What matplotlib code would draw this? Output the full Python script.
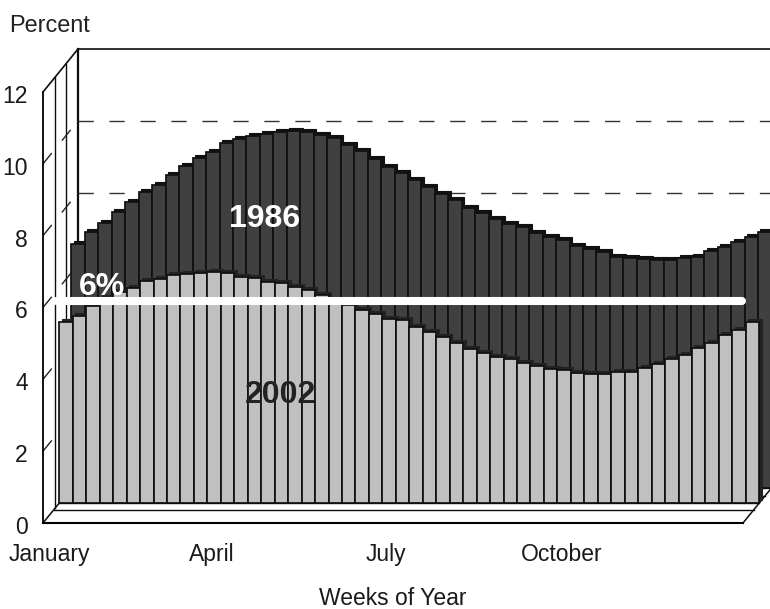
import matplotlib
matplotlib.use('Agg')
import matplotlib.pyplot as plt
from matplotlib.transforms import Affine2D
import numpy as np

plt.rcParams['font.family'] = ['Liberation Sans', 'DejaVu Sans']

# Data: share of annual total per week, 52 weeks
share_1986 = [6.80, 7.13, 7.38, 7.69, 7.97, 8.25, 8.44, 8.72, 8.96, 9.19, 9.36, 9.61, 9.72,
              9.79, 9.86, 9.92, 9.94, 9.92, 9.83, 9.75, 9.55, 9.37, 9.16, 8.95, 8.78, 8.58,
              8.38, 8.19, 8.02, 7.80, 7.66, 7.49, 7.35, 7.27, 7.10, 6.99, 6.91, 6.74, 6.66,
              6.57, 6.43, 6.41, 6.38, 6.35, 6.35, 6.41, 6.43, 6.60, 6.71, 6.85, 6.99, 7.13]
share_2002 = [5.04, 5.21, 5.49, 5.71, 5.88, 5.99, 6.18, 6.24, 6.35, 6.38, 6.41, 6.43, 6.41,
              6.30, 6.27, 6.16, 6.13, 6.02, 5.93, 5.79, 5.65, 5.52, 5.38, 5.26, 5.13, 5.10,
              4.90, 4.76, 4.62, 4.46, 4.29, 4.18, 4.07, 4.01, 3.90, 3.82, 3.73, 3.70, 3.62,
              3.59, 3.59, 3.65, 3.65, 3.76, 3.87, 4.01, 4.12, 4.32, 4.46, 4.68, 4.82, 5.04]
month_weeks = [1, 13, 26, 39]
month_labels = ['January', 'April', 'July', 'October']
y_ticks = [0, 2, 4, 6, 8, 10, 12]
reference_level = 6

n_weeks = len(share_1986)
weeks = np.arange(n_weeks)

# Oblique projection: depth t in 0..1 runs from the front plane to the back wall
DEPTH_X = 35 / (700 / n_weeks)
DEPTH_Y = 43 / (431 / 12)


def project(week, value, t):
    return np.asarray(week) + t * DEPTH_X, np.asarray(value) + t * DEPTH_Y


fig = plt.figure(figsize=(7.7, 6.09), dpi=100)
ax = fig.add_axes([43 / 770, 86 / 609, 700 / 770, 431 / 609])
ax.set_xlim(0, n_weeks)
ax.set_ylim(0, 12)
ax.patch.set_visible(False)

LINE = '#0d0d0d'

# Left wall verticals and back wall
for t, lw in [(12 / 35, 1.0), (23 / 35, 1.0), (1, 1.6)]:
    x, y = project([0, 0], [0, 12], t)
    ax.plot(x, y, color=LINE, lw=lw, clip_on=False, zorder=1)

x, y = project([0, n_weeks], [12, 12], 1)
ax.plot(x, y, color=LINE, lw=1.2, clip_on=False, zorder=1)
x, y = project([0, 0], [12, 12], np.array([0, 1]))
ax.plot(x, y, color=LINE, lw=1.2, clip_on=False, zorder=1)

# Dashed gridlines on the back wall and along the left wall
for tick in y_ticks[1:-1]:
    x, y = project([0, n_weeks], [tick, tick], 1)
    ax.plot(x, y, color='#333333', lw=1.0, ls=(0, (11, 11.3)), clip_on=False, zorder=1)
    x, y = project([0, 0], [tick, tick], np.array([0, 1]))
    ax.plot(x, y, color='#222222', lw=1.0, ls=(0, (10, 11.5)), clip_on=False, zorder=1)

# Floor outline
for t in [13 / 43, 20 / 43, 27 / 43, 35 / 43]:
    x, y = project([0, n_weeks], [0, 0], t)
    ax.plot(x, y, color=LINE, lw=1.0, clip_on=False, zorder=1)
for week in [0, n_weeks]:
    x, y = project([week, week], [0, 0], np.array([0, 1]))
    ax.plot(x, y, color=LINE, lw=1.1, clip_on=False, zorder=1)


def draw_series(values, t, color, top_color, zorder):
    # The dark copy set slightly back gives the bars their top and side faces
    x, base = project(weeks, np.zeros(n_weeks), t + 3 / 43)
    ax.bar(x, values, width=1, bottom=base, align='edge', color=top_color,
           edgecolor=top_color, linewidth=0.8, clip_on=False, zorder=zorder)
    x, base = project(weeks, np.zeros(n_weeks), t)
    ax.bar(x, values, width=1, bottom=base, align='edge', color=color,
           edgecolor='#101010', linewidth=1.25, clip_on=False, zorder=zorder + 0.5)


draw_series(share_1986, 35 / 43, '#404040', '#111111', 2)
draw_series(share_2002, 20 / 43, '#c0c0c0', '#222222', 3)

# 6% reference line
ax.plot([0.95, 51.9], [reference_level + 6 / 35.9] * 2, color='white', lw=5.8,
        solid_capstyle='round', clip_on=False, zorder=5)

ax.text(16.46, 8.47, '1986', color='white', fontsize=23, fontweight='bold',
        ha='center', va='center', zorder=6)
ax.text(17.65, 3.57, '2002', color='#222222', fontsize=23, fontweight='bold',
        ha='center', va='center', zorder=6)
ax.text(4.4, 6.58, '6%', color='white', fontsize=23, fontweight='bold',
        ha='center', va='center', zorder=6)

# Axes
ax.spines['top'].set_visible(False)
ax.spines['right'].set_visible(False)
ax.spines['left'].set_linewidth(1.3)
ax.spines['bottom'].set_linewidth(1.5)
ax.spines['left'].set_zorder(1)
ax.spines['bottom'].set_zorder(1)
ax.set_yticks(y_ticks)
ax.set_xticks([w - 0.5 for w in month_weeks])
ax.set_xticklabels(month_labels)
ax.tick_params(axis='both', length=0, labelsize=16.5, labelcolor='#1a1a1a')
ax.tick_params(axis='y', pad=11)
ax.tick_params(axis='x', pad=14.5)
for label in ax.get_yticklabels():
    label.set_transform(label.get_transform() + Affine2D().translate(0, -2))
ax.set_xlabel('Weeks of Year', fontsize=16.5, color='#1a1a1a')
ax.xaxis.set_label_coords((393 - 43) / 700, -(587 - 523) / 431)
fig.text(9 / 770, 1 - 32 / 609, 'Percent', fontsize=16.9, color='#222222')

fig.savefig('out.png', dpi=100)
